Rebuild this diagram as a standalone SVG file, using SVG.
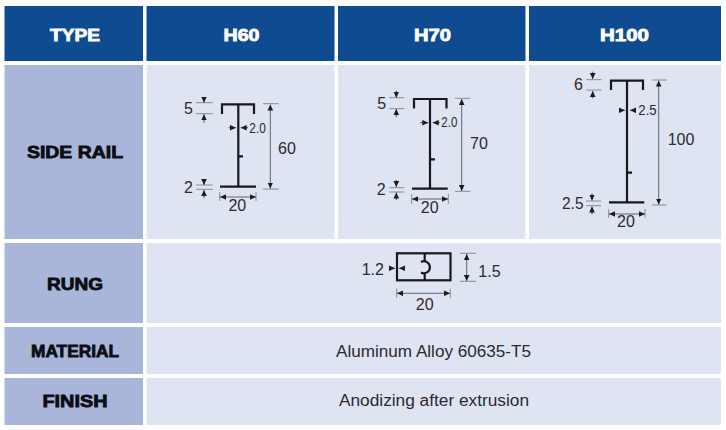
<svg xmlns="http://www.w3.org/2000/svg" width="726" height="430" viewBox="0 0 726 430">
<style>
text{font-family:"Liberation Sans",Arial,sans-serif}
.hd{fill:#0f4b91}.lf{fill:#a9b6d9}.ce{fill:#dfe4f2}
.ht{fill:#fff;stroke:#fff;stroke-width:.8;font-weight:700;font-size:17px;text-anchor:middle}
.lt{fill:#0c0c12;stroke:#0c0c12;stroke-width:.8;font-weight:700;font-size:17px;text-anchor:middle}
.v{fill:#2a2a30;font-size:16px;text-anchor:middle}
.d{fill:#2a2a30;font-size:15.500px}
.m{fill:#2a2a30;font-size:16px}
.p{fill:none;stroke:#17171c;stroke-width:2.2}
.t{fill:none;stroke:#7f8188;stroke-width:.9}
.a{fill:none;stroke:#33343a;stroke-width:.8;marker-end:url(#ah)}
.b{fill:none;stroke:#55565c;stroke-width:.9;marker-start:url(#as);marker-end:url(#ah)}
</style>
<defs>
<marker id="ah" markerUnits="userSpaceOnUse" markerWidth="7" markerHeight="6" refX="6" refY="3" orient="auto"><path d="M0 .2L6 3L0 5.800Z" fill="#1c1c22"/></marker>
<marker id="as" markerUnits="userSpaceOnUse" markerWidth="7" markerHeight="6" refX="0" refY="3" orient="auto"><path d="M6 .2L0 3L6 5.800Z" fill="#1c1c22"/></marker>
</defs>
<rect width="726" height="430" fill="#fff"/>
<g id="header-type"><rect class="hd" x="4.500" y="6" width="138.500" height="55"/><text class="ht" x="75" y="40.500" textLength="50" lengthAdjust="spacingAndGlyphs">TYPE</text></g>
<g id="header-h60"><rect class="hd" x="146.500" y="6" width="188" height="55"/><text class="ht" x="241.500" y="40.500" textLength="36" lengthAdjust="spacingAndGlyphs">H60</text></g>
<g id="header-h70"><rect class="hd" x="338" y="6" width="187.500" height="55"/><text class="ht" x="432.500" y="40.500" textLength="37" lengthAdjust="spacingAndGlyphs">H70</text></g>
<g id="header-h100"><rect class="hd" x="529" y="6" width="192" height="55"/><text class="ht" x="624.500" y="40.500" textLength="49" lengthAdjust="spacingAndGlyphs">H100</text></g>

<g id="label-side-rail"><rect class="lf" x="4.500" y="65" width="138.500" height="174"/><text class="lt" x="75" y="158" textLength="96" lengthAdjust="spacingAndGlyphs">SIDE RAIL</text></g>
<g id="cell-h60"><rect class="ce" x="146.500" y="65" width="188" height="174"/>
<path class="p" d="M222 114V104.300H254V114M238.300 104.300V186.700M220 186.700H256M238.300 156.300H243"/>
<text class="m" x="184" y="114">5</text><text class="m" x="184" y="193">2</text>
<text class="v" x="237.300" y="211">20</text><text class="m" x="278" y="154">60</text>
<text class="d" x="249.300" y="132.700" textLength="16.500" lengthAdjust="spacingAndGlyphs">2.0</text></g>
<g id="cell-h70"><rect class="ce" x="338" y="65" width="187.500" height="174"/>
<path class="p" d="M414 108.500V99H446.500V108.500M430 99V188.700M412 188.700H447.700M430 159.300H435"/>
<text class="m" x="377.300" y="109">5</text><text class="m" x="376.700" y="195">2</text>
<text class="v" x="429.700" y="213">20</text><text class="m" x="470" y="149">70</text>
<text class="d" x="441.300" y="127" textLength="16" lengthAdjust="spacingAndGlyphs">2.0</text></g>
<g id="cell-h100"><rect class="ce" x="529" y="65" width="192" height="174"/>
<path class="p" d="M611 90V80.700H643V90M627 80.700V202.300M609 202.300H644.300M627 172.700H632"/>
<text class="m" x="574" y="90.300">6</text><text class="m" x="562" y="209" textLength="21.500" lengthAdjust="spacingAndGlyphs">2.5</text>
<text class="v" x="626" y="227.300">20</text><text class="m" x="667.700" y="145">100</text>
<text class="d" x="638.300" y="114.700" textLength="18.400" lengthAdjust="spacingAndGlyphs">2.5</text></g>

<g id="label-rung"><rect class="lf" x="4.500" y="243" width="138.500" height="80"/><text class="lt" x="75" y="290" textLength="56" lengthAdjust="spacingAndGlyphs">RUNG</text></g>
<g id="cell-rung"><rect class="ce" x="146.500" y="243" width="574.500" height="80"/>
<rect class="p" x="397" y="253.300" width="53.500" height="27"/>
<path class="p" d="M424.700 253.300V261.500M424.700 273V280.300M421 262A6 6 0 1 1 421 272.500"/>
<text class="m" x="361.700" y="275.300">1.2</text><text class="m" x="478.300" y="277">1.5</text>
<text class="v" x="424.700" y="310.300">20</text></g>

<g id="label-material"><rect class="lf" x="4.500" y="327" width="138.500" height="47"/><text class="lt" x="75" y="357" textLength="88" lengthAdjust="spacingAndGlyphs">MATERIAL</text></g>
<g id="cell-material"><rect class="ce" x="146.500" y="327" width="574.500" height="47"/><text class="v" x="433.500" y="357" textLength="195" lengthAdjust="spacingAndGlyphs">Aluminum Alloy 60635-T5</text></g>
<g id="label-finish"><rect class="lf" x="4.500" y="378" width="138.500" height="47"/><text class="lt" x="75" y="407" textLength="65" lengthAdjust="spacingAndGlyphs">FINISH</text></g>
<g id="cell-finish"><rect class="ce" x="146.500" y="378" width="574.500" height="47"/><text class="v" x="434" y="406" textLength="190" lengthAdjust="spacingAndGlyphs">Anodizing after extrusion</text></g>

<g id="connectors">
<path class="t" d="M196 102.700H212.700M196 113.700H212.700M196 185H212.700M196 189.300H212.700M219.700 192V201M256 192V201M263 103.700H278.700M263 189H278.700"/>
<path class="a" d="M204 97V102.700"/><path class="a" d="M204 122.700V114.300"/><path class="a" d="M204 179V185"/><path class="a" d="M204 198V190"/>
<path class="a" d="M228.700 127.700H236"/><path class="a" d="M248 127.700H240.700"/>
<path class="b" d="M220 197H256"/><path class="b" d="M270.300 104.500V188.500"/>

<path class="t" d="M389.300 97.700H404.300M389.300 108.700H404.300M389.300 187.700H404.300M389.300 192H404.300M411.700 194V204M448.300 194V204M455 98.300H470.300M455 191.300H470.300"/>
<path class="a" d="M396.300 90.700V97.700"/><path class="a" d="M396.300 117.300V109"/><path class="a" d="M396.300 180V187"/><path class="a" d="M396.300 200V192.500"/>
<path class="a" d="M420 122.700H428.300"/><path class="a" d="M440 122.700H432.700"/>
<path class="b" d="M412 199H448"/><path class="b" d="M461.700 99V191"/>

<path class="t" d="M586.300 79.700H601.700M586.300 90H601.700M586 201H601M586 205.700H601M608.700 209V217.700M645 209V217.700M652 80H667M652 205H667"/>
<path class="a" d="M592.700 71.700V79"/><path class="a" d="M592.700 98.300V91"/><path class="a" d="M592 193.300V200.500"/><path class="a" d="M592 214.300V206.500"/>
<path class="a" d="M619.300 110.300H625"/><path class="a" d="M635.300 110.300H630"/>
<path class="b" d="M609 214H645"/><path class="b" d="M658.700 80.500V204.500"/>

<path class="t" d="M460 253.300H476M460 281.300H476M396.700 288.700V298M450.300 288.700V298"/>
<path class="a" d="M389.300 268.300H395"/><path class="a" d="M405 268.300H399"/>
<path class="b" d="M397 293.300H450"/><path class="b" d="M466.700 254V281"/>
</g>
</svg>
